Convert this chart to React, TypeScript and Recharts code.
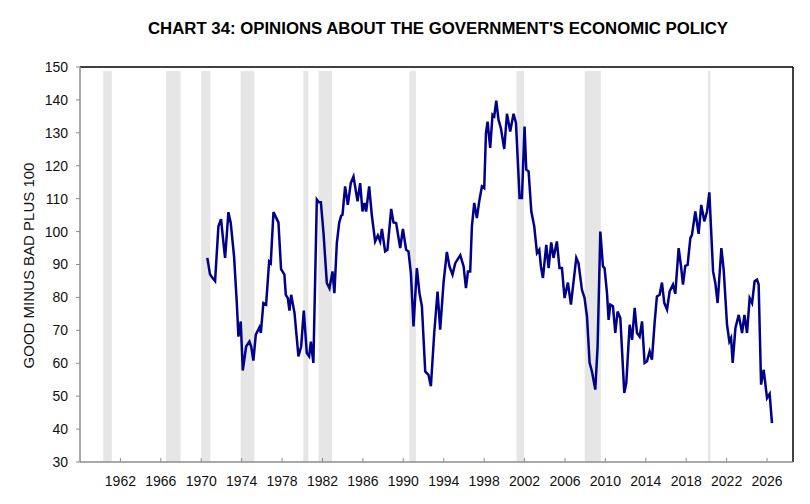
import { LineChart, Line, XAxis, YAxis, ReferenceArea, ReferenceLine } from 'recharts';

// Survey: opinions about the government's economic policy (good - bad + 100)
const YEARS = [
  1970.6, 1970.87, 1971.1, 1971.37, 1971.7, 1971.96, 1972.15, 1972.36, 1972.69, 1972.92,
  1973.25, 1973.52, 1973.68, 1973.91, 1974.11, 1974.44, 1974.77, 1974.95, 1975.16, 1975.4,
  1975.76, 1975.9, 1976.15, 1976.42, 1976.72, 1976.88, 1977.15, 1977.64, 1977.9, 1978.23,
  1978.37, 1978.57, 1978.73, 1978.9, 1979.23, 1979.62, 1979.89, 1980.15, 1980.45, 1980.68,
  1980.85, 1981.1, 1981.44, 1981.64, 1981.84, 1982.1, 1982.43, 1982.69, 1982.99, 1983.18,
  1983.42, 1983.65, 1983.85, 1983.98, 1984.24, 1984.51, 1984.8, 1985.07, 1985.47, 1985.73,
  1985.96, 1986.16, 1986.32, 1986.62, 1986.88, 1987.21, 1987.48, 1987.71, 1987.88, 1988.2,
  1988.43, 1988.8, 1989.03, 1989.29, 1989.69, 1989.96, 1990.28, 1990.51, 1990.75, 1991.01,
  1991.34, 1991.6, 1991.84, 1992.17, 1992.49, 1992.73, 1993.06, 1993.39, 1993.65, 1993.98,
  1994.31, 1994.57, 1994.87, 1995.14, 1995.47, 1995.64, 1995.97, 1996.2, 1996.4, 1996.62,
  1996.79, 1997.02, 1997.28, 1997.54, 1997.78, 1998.01, 1998.18, 1998.34, 1998.6, 1998.83,
  1999.0, 1999.2, 1999.42, 1999.66, 1999.99, 2000.26, 2000.58, 2000.91, 2001.15, 2001.51,
  2001.74, 2002.0, 2002.17, 2002.4, 2002.67, 2002.96, 2003.23, 2003.46, 2003.62, 2003.82,
  2004.15, 2004.38, 2004.64, 2004.87, 2005.2, 2005.46, 2005.7, 2005.96, 2006.29, 2006.59,
  2007.12, 2007.34, 2007.68, 2007.94, 2008.18, 2008.44, 2008.67, 2009.0, 2009.23, 2009.5,
  2009.76, 2009.92, 2010.16, 2010.32, 2010.49, 2010.75, 2010.98, 2011.21, 2011.48, 2011.87,
  2012.07, 2012.4, 2012.64, 2012.9, 2013.13, 2013.39, 2013.63, 2013.88, 2014.12, 2014.38,
  2014.61, 2014.87, 2015.1, 2015.37, 2015.6, 2015.83, 2016.1, 2016.36, 2016.69, 2016.92,
  2017.25, 2017.49, 2017.68, 2017.91, 2018.14, 2018.41, 2018.57, 2018.9, 2019.23, 2019.49,
  2019.79, 2020.06, 2020.29, 2020.66, 2020.88, 2021.11, 2021.48, 2021.71, 2022.04, 2022.27,
  2022.44, 2022.6, 2022.87, 2023.2, 2023.53, 2023.76, 2024.02, 2024.28, 2024.52, 2024.77,
  2025.01, 2025.17, 2025.41, 2025.67, 2026.0, 2026.26, 2026.49,
];

const VALUES = [
  92, 87, 86, 85, 101.6, 103.8, 98, 92, 105.9, 102.6,
  92.4, 78.3, 68.1, 72.7, 57.8, 65.1, 66.6, 65, 60.8, 68.7,
  70.9, 69.2, 78.3, 77.8, 90.9, 90.4, 105.9, 102.8, 88.6, 86.9,
  80.8, 79.8, 76, 80.8, 75.3, 62.1, 65.1, 76, 63.1, 62.1,
  66.6, 60.1, 109.7, 108.9, 108.9, 99.6, 84.4, 82.8, 87.9, 81.3,
  96.5, 102.6, 104.8, 105.1, 113.7, 108.1, 114.7, 116.7, 109.2, 114.7,
  106.1, 108.7, 106.1, 113.7, 105.1, 97, 98.8, 97, 100.8, 94,
  94.5, 106.9, 102.8, 102.6, 95, 100.8, 94.5, 94, 87.4, 71.2,
  88.9, 81.3, 77.3, 57.5, 56.5, 53, 69.2, 81.8, 70.2, 84.4,
  93.8, 89.4, 86.9, 90.4, 92, 92.8, 89.4, 82.8, 87.9, 87.9,
  101.6, 108.7, 104.1, 109.7, 113.7, 113.2, 129.9, 133.4, 125.4, 135.5,
  135, 139.8, 134, 131.4, 125.1, 135.8, 130.4, 135.8, 133, 110.2,
  110.2, 131.9, 118.8, 118.3, 106.1, 101.6, 93.5, 94.5, 89.4, 85.9,
  96, 88.9, 96.7, 92, 97, 88.9, 88.9, 79.8, 84.5, 77.8,
  92, 90.4, 82.3, 79.8, 74.2, 60.1, 57.5, 52, 65.1, 100,
  89.4, 88.9, 81.3, 73.2, 77.8, 77.3, 69.2, 75.7, 73.7, 51,
  54, 71.7, 67.1, 76.8, 69.2, 68.1, 72.7, 60.1, 60.6, 63.6,
  61.1, 72.2, 80.3, 80.8, 84.5, 78.3, 76.3, 81.8, 83.9, 81.1,
  95, 89.4, 83.9, 89.6, 89.9, 98, 99, 106.1, 99.3, 108.1,
  103.1, 106.1, 111.9, 87.9, 84.4, 78.3, 95, 88.4, 71.7, 66.6,
  67.7, 60.1, 70.7, 74.7, 69.2, 74.7, 69.2, 79.8, 78.3, 84.9,
  85.4, 83.9, 53.5, 58, 49.4, 50.7, 41.8,
];

// shaded periods [start, end]
const RECESSION_START = [1960.3, 1966.5, 1970.0, 1973.9, 1980.1, 1981.6, 1990.6, 2001.2, 2007.95, 2020.15];
const RECESSION_END = [1961.15, 1967.95, 1970.9, 1975.25, 1980.6, 1982.95, 1991.25, 2001.95, 2009.55, 2020.4];

const X_TICKS = [1962, 1966, 1970, 1974, 1978, 1982, 1986, 1990, 1994, 1998, 2002, 2006, 2010, 2014, 2018, 2022, 2026];
const Y_TICKS = [30, 40, 50, 60, 70, 80, 90, 100, 110, 120, 130, 140, 150];

const X_MIN = 1958;
const X_MAX = 2028.57;

const data = YEARS.map((year, i) => ({ year, value: VALUES[i] }));

const FONT = "'Liberation Sans', Arial, sans-serif";

function XTick(props: any) {
  const { x, y, payload } = props;
  return (
    <g>
      <line x1={x} x2={x} y1={y} y2={y - 4} stroke="#8c8c8c" strokeWidth={1} />
      <text x={x} y={y + 24} textAnchor="middle" fontSize={14} fontFamily={FONT} fill="#111">
        {payload.value}
      </text>
    </g>
  );
}

export default function App() {
  return (
    <div style={{ position: 'absolute', left: 0, top: 0, width: 810, height: 504, background: '#fff' }}>
      <LineChart
        width={810}
        height={504}
        data={data}
        margin={{ top: 67, right: 17, left: 0, bottom: 12 }}
      >
        {RECESSION_START.map((s, i) => (
          <ReferenceArea
            key={`rec-${i}`}
            x1={s}
            x2={RECESSION_END[i]}
            y1={30}
            y2={148.8}
            fill="#e6e6e6"
            fillOpacity={1}
            stroke="none"
          />
        ))}
        <XAxis
          dataKey="year"
          type="number"
          domain={[X_MIN, X_MAX]}
          ticks={X_TICKS}
          allowDataOverflow
          height={30}
          tickSize={0}
          tickMargin={0}
          tickLine={false}
          axisLine={{ stroke: '#8c8c8c', strokeWidth: 1.5 }}
          tick={<XTick />}
          interval={0}
        />
        <YAxis
          type="number"
          domain={[30, 150]}
          ticks={Y_TICKS}
          width={80}
          interval={0}
          tickSize={4}
          tickMargin={8}
          tickLine={{ stroke: '#8c8c8c' }}
          axisLine={{ stroke: '#8c8c8c', strokeWidth: 1.5 }}
          tick={{ fontSize: 14, fill: '#111', fontFamily: FONT }}
        />
        <ReferenceLine y={150} stroke="#000" strokeWidth={1.5} />
        <ReferenceLine x={X_MAX} stroke="#000" strokeWidth={1.5} />
        <Line
          type="linear"
          dataKey="value"
          stroke="#000088"
          strokeWidth={2.5}
          dot={false}
          isAnimationActive={false}
        />
      </LineChart>
      <svg
        width={810}
        height={504}
        style={{ position: 'absolute', left: 0, top: 0, pointerEvents: 'none' }}
      >
        <text
          x={438}
          y={34}
          textAnchor="middle"
          fontSize={16}
          fontWeight="bold"
          fontFamily={FONT}
          fill="#000"
          textLength={580}
          lengthAdjust="spacingAndGlyphs"
        >
          CHART 34: OPINIONS ABOUT THE GOVERNMENT'S ECONOMIC POLICY
        </text>
        <text
          x={0}
          y={0}
          transform="translate(34 265.5) rotate(-90)"
          textAnchor="middle"
          fontSize={15}
          fontFamily={FONT}
          fill="#111"
        >
          GOOD MINUS BAD PLUS 100
        </text>
      </svg>
    </div>
  );
}
